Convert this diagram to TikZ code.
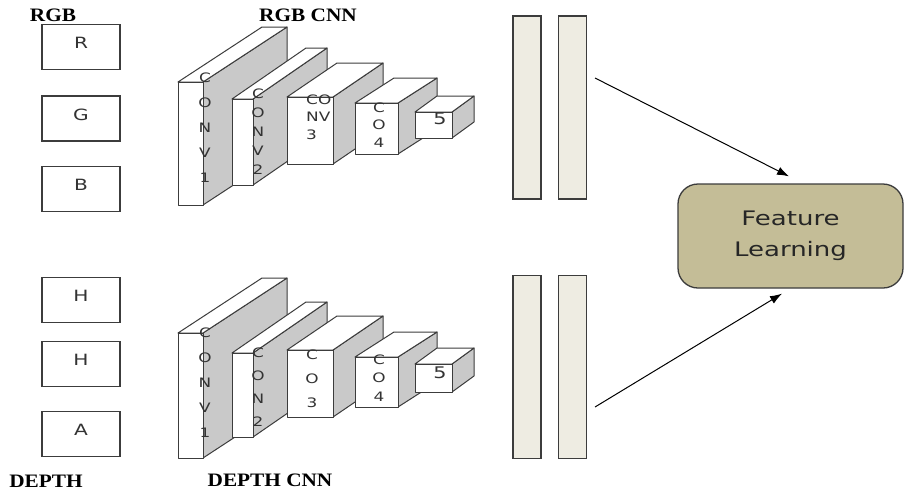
\documentclass[tikz,border=0pt]{standalone}
\usepackage{fontspec}
\setmainfont{Liberation Serif}
\newfontfamily\capfont[FakeStretch=1.12]{Liberation Serif}
\newfontfamily\boxfont[FakeStretch=1.3]{DejaVu Sans}
\usetikzlibrary{arrows.meta}
\definecolor{edgegray}{HTML}{3C3C3C}
\definecolor{sidegray}{HTML}{C9C9C9}
\definecolor{barfill}{HTML}{EEECE2}
\definecolor{tanfill}{HTML}{C4BD97}
\definecolor{inkgray}{HTML}{333333}

\tikzset{
  title/.style={font=\capfont\bfseries\fontsize{19}{22}\selectfont, text=black, inner sep=0pt},
  inbox/.style={draw=edgegray, line width=1.4pt, fill=white, minimum width=78pt, minimum height=45pt,
    inner sep=0pt, font=\boxfont\fontsize{15.5}{17}\selectfont, text=inkgray, text height=11pt, text depth=8pt},
  blockface/.style={fill=white, draw=edgegray, line width=1pt, line join=round},
  blockside/.style={fill=sidegray, draw=edgegray, line width=1pt, line join=round},
  blocklabel/.style={font=\boxfont\fontsize{13}{#1}\selectfont, text=inkgray, inner sep=0pt, align=center},
  bignum/.style={font=\boxfont\fontsize{16}{18}\selectfont, text=inkgray, inner sep=0pt},
  fcbar/.style={draw=edgegray, line width=1.2pt, fill=barfill, minimum width=28pt, minimum height=183pt, inner sep=0pt},
  fusebox/.style={draw=edgegray, line width=1.3pt, fill=tanfill, rounded corners=20pt, minimum width=225pt,
    minimum height=104pt, align=center, font=\boxfont\fontsize{20}{31}\selectfont, text=black!85},
  flow/.style={-{Latex[length=12pt,width=8.5pt]}, line width=1pt, black}
}

% a convolution block: front face (#1,#2)-(#3,#4), depth offset (#5 right, #6 up)
\newcommand\convblock[6]{%
  \filldraw[blockside] (#3,#2) -- (#3+#5,#2-#6) -- (#3+#5,#4-#6) -- (#3,#4) -- cycle;
  \filldraw[blockface] (#1,#2) -- (#1+#5,#2-#6) -- (#3+#5,#2-#6) -- (#3,#2) -- cycle;
  \filldraw[blockface] (#1,#2) rectangle (#3,#4);
}

\begin{document}
\begin{tikzpicture}[x=1pt,y=-1pt]
\useasboundingbox[fill=white] (0,0) rectangle (904,491);

% input channels
\node[title] (rgb) at (53,15) {RGB};
\node[inbox] (r) at (81,47) {R};
\node[inbox] (g) at (81,118.5) {G};
\node[inbox] (b) at (81,189) {B};
\node[inbox] (h1) at (81,300) {H};
\node[inbox] (h2) at (81,364) {H};
\node[inbox] (a) at (81,434) {A};
\node[title] (depth) at (46,481) {DEPTH};

% RGB stream
\node[title] (rgbcnn) at (308,15) {RGB CNN};
\convblock{178}{82}{203}{205}{84}{55}
\node[blocklabel=25pt] (t1) at (205,128) {C\\O\\N\\V\\1};
\convblock{232}{99}{253}{185}{74}{51}
\node[blocklabel=19pt] (t2) at (258,132) {C\\O\\N\\V\\2};
\convblock{287}{97}{333}{164}{50}{34}
\node[blocklabel=17.5pt, align=left, anchor=west] (t3) at (306,117) {CO\\NV\\3};
\convblock{355}{103}{398}{154}{39}{25}
\node[blocklabel=17.5pt] (t4) at (379,125) {C\\O\\4};
\convblock{415}{112}{452}{138}{22}{16}
\node[bignum] (t5) at (440,119) {5};

% depth stream
\convblock{178}{333}{203}{458}{84}{55}
\node[blocklabel=25pt] (d1) at (205,383) {C\\O\\N\\V\\1};
\convblock{232}{353}{253}{437}{74}{51}
\node[blocklabel=23pt] (d2) at (258,387) {C\\O\\N\\2};
\convblock{287}{350}{333}{417}{50}{34}
\node[blocklabel=24pt] (d3) at (312,379) {C\\O\\3};
\convblock{355}{357}{398}{407}{39}{25}
\node[blocklabel=18.5pt] (d4) at (379,378) {C\\O\\4};
\convblock{415}{364}{452}{392}{22}{16}
\node[bignum] (d5) at (440,373) {5};
\node[title] (depthcnn) at (270,480) {DEPTH CNN};

% fully connected layers
\node[fcbar] (fa1) at (527,107.5) {};
\node[fcbar] (fa2) at (572.5,107.5) {};
\node[fcbar] (fb1) at (527,367) {};
\node[fcbar] (fb2) at (572.5,367) {};

% fusion
\node[fusebox] (fuse) at (790.5,236) {Feature\\Learning};

\coordinate (sa) at (595,78);
\coordinate (sb) at (595,407);
\coordinate (ea) at ([xshift=-1.5pt,yshift=7pt]fuse.north);
\coordinate (eb) at ([xshift=-8.5pt,yshift=-5pt]fuse.south);
\draw[flow] (sa) -- (ea);
\draw[flow] (sb) -- (eb);
\end{tikzpicture}
\end{document}
